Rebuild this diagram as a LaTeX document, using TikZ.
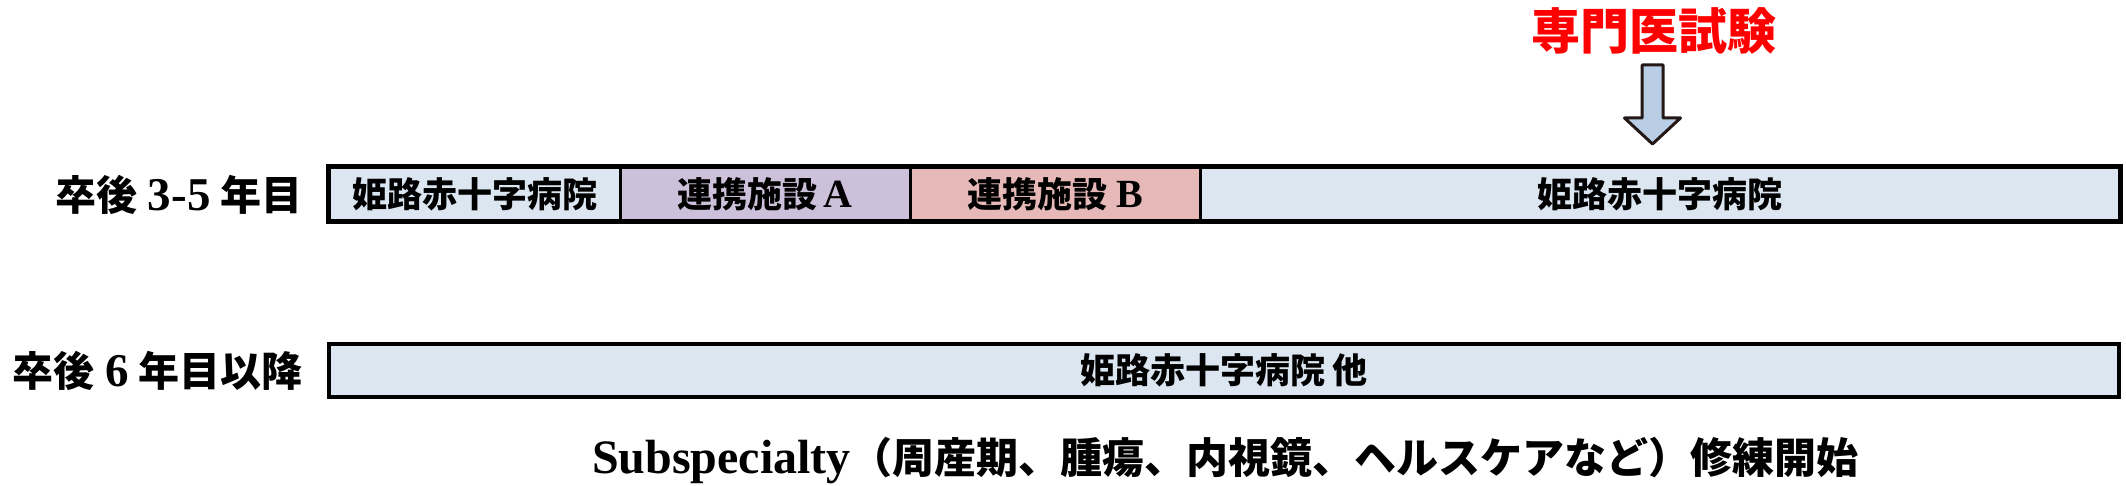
\documentclass[tikz,border=0pt]{standalone}
\usepackage{fontspec}
\setmainfont{Liberation Serif}
\newfontfamily\cjk{Noto Sans CJK JP}
\definecolor{hosp}{HTML}{DCE6F1}
\definecolor{purp}{HTML}{CCC0DA}
\definecolor{pinkc}{HTML}{E6B9B8}
\definecolor{arrowfill}{HTML}{B9CDE5}
\definecolor{arrowline}{HTML}{231815}
\newcommand{\biglat}[1]{{\fontsize{47}{50}\selectfont #1}}
\newcommand{\boxlat}[1]{{\fontsize{40}{44}\selectfont #1}}
\begin{document}
\begin{tikzpicture}[x=1pt,y=1pt,
  seg/.style={draw=black, line width=3pt, minimum height=53pt, inner sep=0pt,
    font=\fontsize{35}{40}\selectfont\bfseries},
  rowlabel/.style={anchor=east, inner sep=0pt, font=\fontsize{41}{46}\selectfont\bfseries},
  blockarrow/.style={line width=3pt, line join=round, draw=arrowline, fill=arrowfill}]
\useasboundingbox (0,0) rectangle (2126,485);
% row 1
\node[seg, fill=hosp, minimum width=291pt] (h1) at (474.5,290.5) {\cjk 姫路赤十字病院};
\node[seg, fill=purp, minimum width=290pt] (a) at (765,290.5) {{\cjk 連携施設}\boxlat{\,A}};
\node[seg, fill=pinkc, minimum width=290pt] (b) at (1055,290.5) {{\cjk 連携施設} \boxlat{B}};
\node[seg, fill=hosp, minimum width=919pt] (h2) at (1659.5,290.5) {\cjk 姫路赤十字病院};
\draw[line width=4pt] (h1.north west) rectangle (h2.south east);
% row 2
\node[seg, fill=hosp, minimum width=1790pt, line width=4pt] (h3) at (1224,114.5) {\cjk 姫路赤十字病院 他};
% labels
\node[rowlabel] (l1) at (303,290.5) {{\cjk 卒後} \biglat{3-5} {\cjk 年目}};
\node[rowlabel] (l2) at (303,114.5) {{\cjk 卒後} \biglat{6} {\cjk 年目以降}};
% exam
\node[font=\fontsize{49}{54}\selectfont\bfseries\cjk, text=red, inner sep=0pt] (exam) at (1654,454) {専門医試験};
\draw[blockarrow] (1642,420) -- (1663,420) -- (1663,367) -- (1680.5,367) -- (1652.5,341)
  -- (1624.5,367) -- (1642,367) -- cycle;
% bottom text
\node[anchor=base west, inner sep=0pt] (sub) at (592,12)
  {\fontsize{48}{52}\selectfont\bfseries Subspecialty\cjk\fontsize{42}{48}\selectfont （周産期、腫瘍、内視鏡、ヘルスケアなど）修練開始};
\end{tikzpicture}
\end{document}
